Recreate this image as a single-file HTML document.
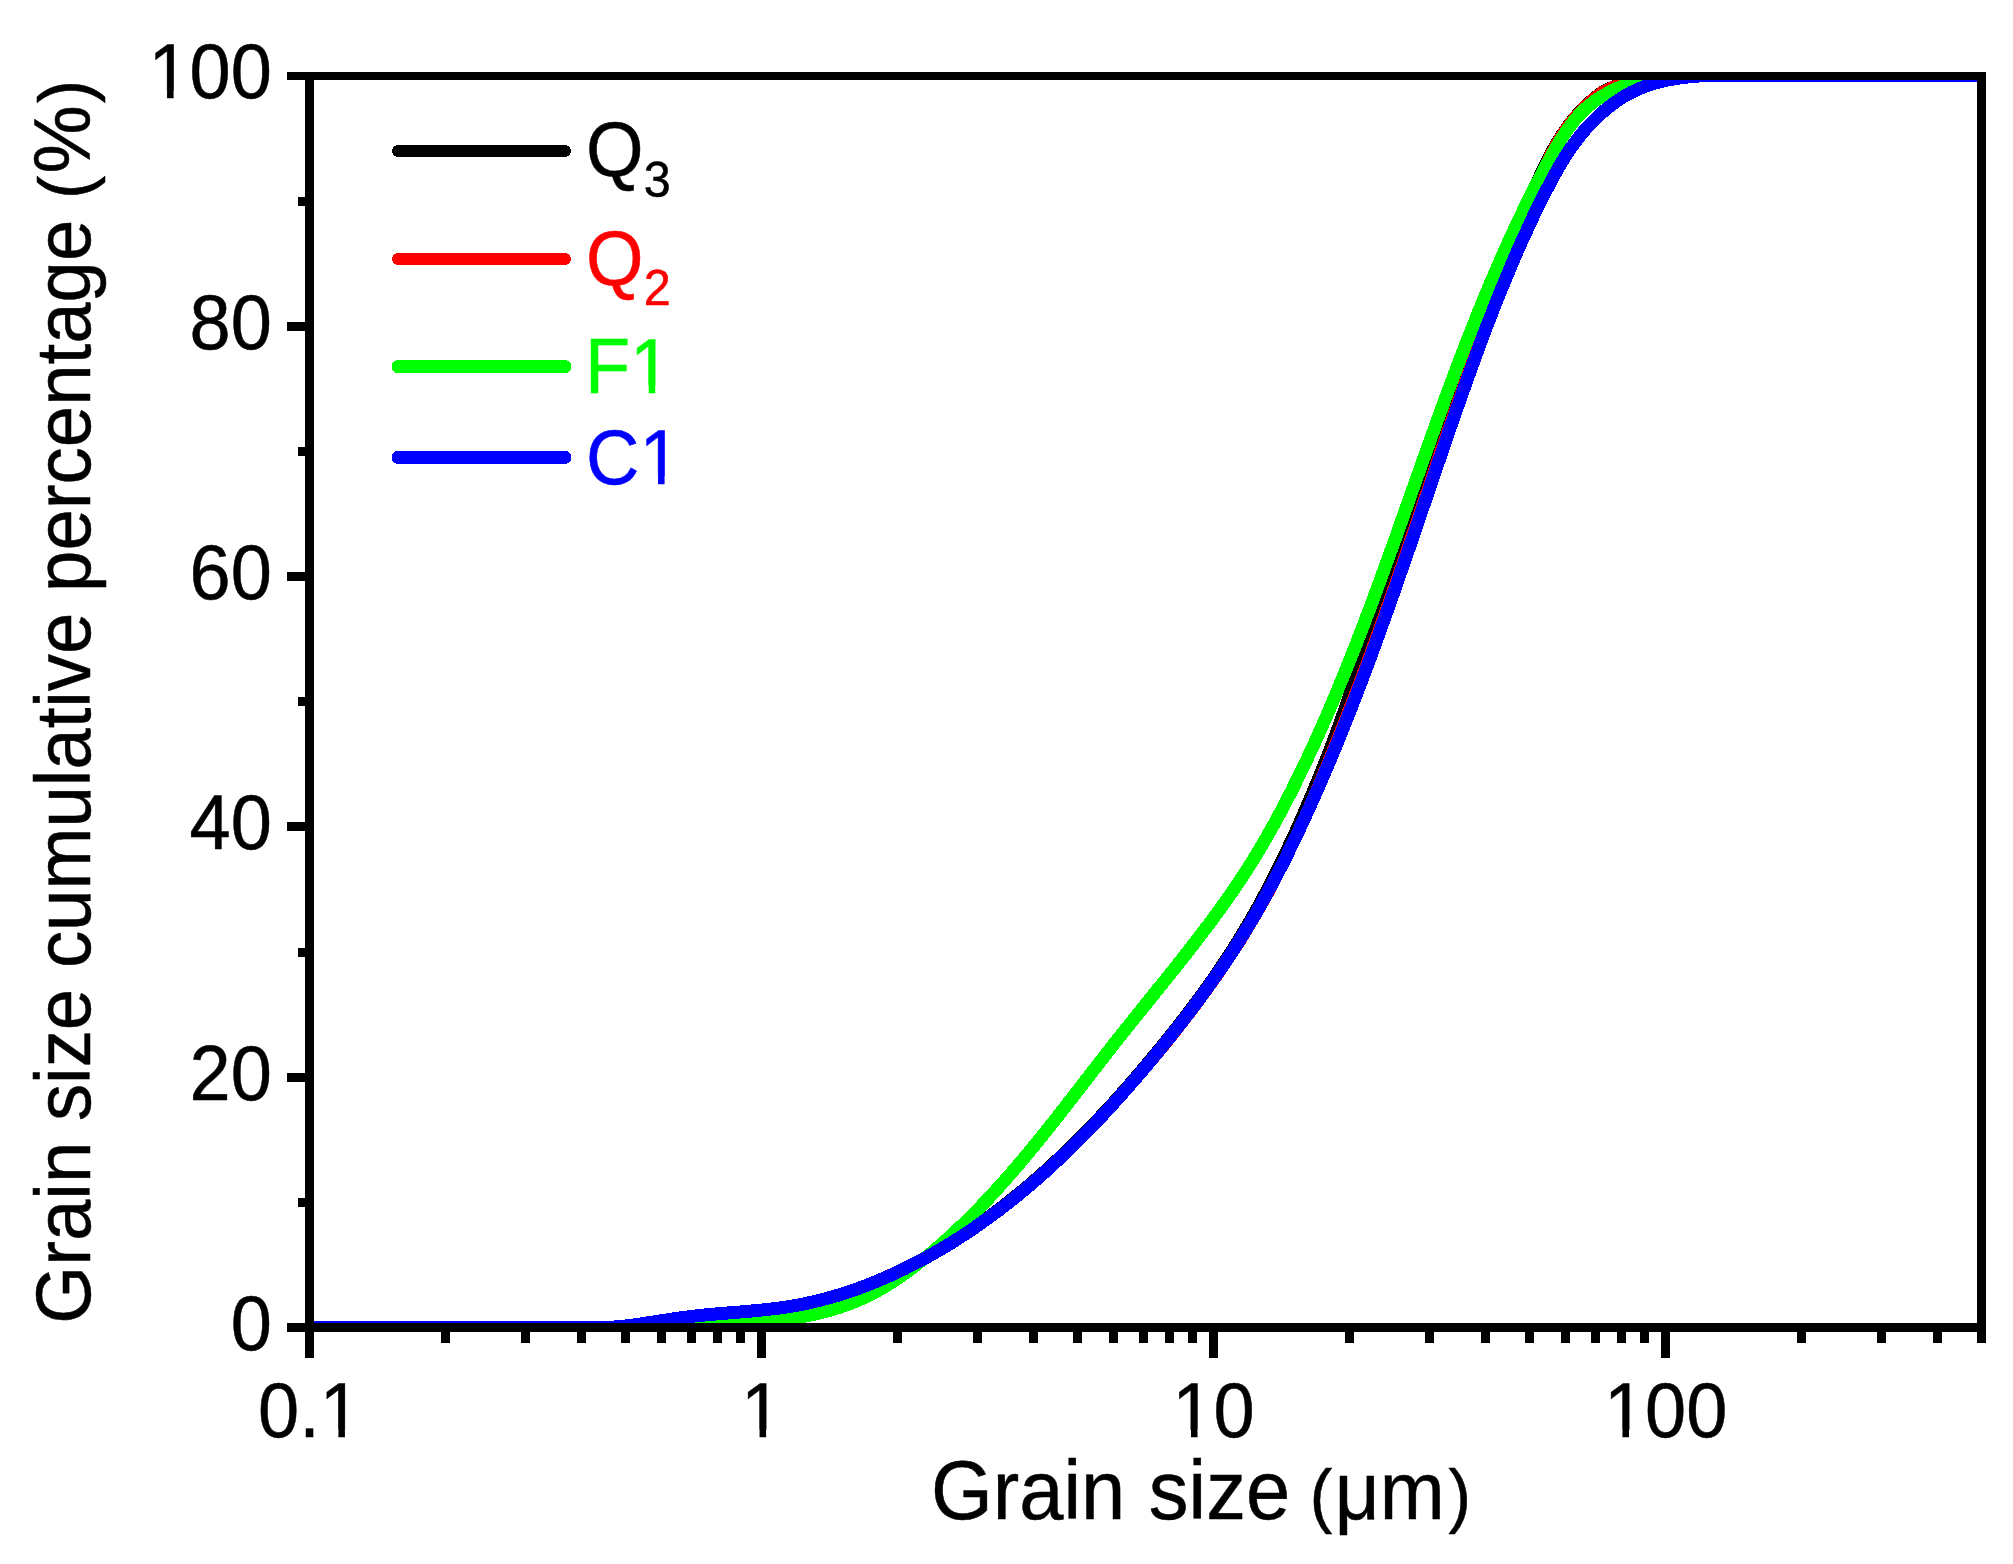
<!DOCTYPE html>
<html><head><meta charset="utf-8"><title>Grain size cumulative percentage</title>
<style>html,body{margin:0;padding:0;background:#fff}svg{display:block}</style></head>
<body>
<svg width="2013" height="1564" viewBox="0 0 2013 1564" font-family="'Liberation Sans', sans-serif">
<rect width="2013" height="1564" fill="#fff"/>
<defs><clipPath id="pc"><rect x="309.5" y="76.0" width="1672.0" height="1251.5"/></clipPath></defs>
<g clip-path="url(#pc)" shape-rendering="crispEdges" fill="none" stroke-width="13" stroke-linejoin="round" stroke-linecap="butt">
<path d="M309.5 1327.6 L540.0 1327.6 L550.0 1327.6 L560.1 1327.6 L570.2 1327.6 L580.3 1327.6 L590.3 1327.6 L600.4 1327.6 L610.4 1327.4 L620.4 1326.5 L630.4 1325.4 L640.3 1324.0 L650.3 1322.5 L660.2 1320.9 L670.2 1319.4 L680.1 1317.9 L690.1 1316.6 L700.1 1315.4 L710.1 1314.5 L720.2 1313.6 L730.2 1312.8 L740.3 1312.0 L750.3 1311.1 L760.3 1310.2 L770.3 1309.1 L780.2 1307.9 L790.2 1306.4 L800.0 1304.7 L809.9 1302.6 L819.7 1300.3 L829.4 1297.7 L839.2 1295.3 L848.9 1292.3 L858.4 1288.9 L867.8 1285.3 L877.0 1281.3 L886.1 1277.0 L895.2 1272.5 L904.2 1268.1 L913.3 1263.6 L922.2 1258.9 L931.0 1254.0 L939.7 1248.9 L948.4 1243.7 L956.9 1238.3 L965.4 1232.8 L973.7 1227.2 L982.0 1221.4 L990.1 1215.4 L998.2 1209.4 L1006.2 1203.2 L1014.1 1196.9 L1021.9 1190.6 L1029.6 1184.1 L1037.2 1177.5 L1044.8 1170.8 L1052.2 1164.0 L1059.6 1157.1 L1066.9 1150.1 L1074.1 1143.1 L1081.3 1136.0 L1088.3 1128.8 L1095.3 1121.5 L1102.2 1114.2 L1109.1 1106.8 L1115.9 1099.3 L1122.6 1091.8 L1129.3 1084.2 L1135.9 1076.6 L1142.4 1068.9 L1148.9 1061.2 L1155.4 1053.4 L1161.8 1045.6 L1168.1 1037.8 L1174.4 1029.9 L1180.6 1022.0 L1186.8 1014.0 L1192.9 1006.0 L1198.9 997.9 L1204.8 989.7 L1210.7 981.5 L1216.4 973.2 L1222.1 964.8 L1227.6 956.4 L1233.1 948.0 L1238.5 939.4 L1243.7 930.8 L1248.9 922.1 L1253.9 913.4 L1258.8 904.6 L1263.6 895.7 L1268.3 886.8 L1273.0 877.8 L1277.5 868.8 L1281.9 859.8 L1286.3 850.7 L1290.6 841.5 L1294.8 832.4 L1298.9 823.2 L1303.0 814.0 L1307.0 804.7 L1311.0 795.4 L1314.9 786.1 L1318.7 776.8 L1322.5 767.4 L1326.2 758.1 L1329.9 748.7 L1333.4 739.2 L1337.0 729.8 L1340.4 720.3 L1343.8 710.8 L1347.1 701.3 L1350.4 691.7 L1353.6 682.2 L1356.9 672.6 L1360.1 663.1 L1363.2 653.5 L1366.3 643.9 L1369.5 634.3 L1372.5 624.7 L1375.6 615.1 L1378.6 605.5 L1381.6 595.8 L1384.6 586.2 L1387.7 576.6 L1390.7 567.0 L1393.8 557.4 L1396.8 547.8 L1399.9 538.1 L1402.9 528.5 L1406.0 518.9 L1409.0 509.3 L1412.0 499.7 L1415.1 490.1 L1418.3 480.5 L1421.5 470.9 L1424.7 461.4 L1427.9 451.8 L1431.1 442.2 L1434.4 432.7 L1437.8 423.2 L1441.2 413.7 L1444.6 404.2 L1448.1 394.7 L1451.5 385.3 L1455.1 375.8 L1458.6 366.4 L1462.2 356.9 L1465.8 347.5 L1469.4 338.1 L1473.0 328.7 L1476.7 319.3 L1480.4 309.9 L1484.2 300.6 L1487.9 291.2 L1491.8 281.9 L1495.7 272.6 L1499.6 263.3 L1503.7 254.1 L1507.8 244.9 L1512.0 235.7 L1516.2 226.5 L1520.4 217.4 L1524.6 208.2 L1528.9 199.0 L1533.1 189.9 L1537.3 180.7 L1541.5 171.5 L1545.9 162.5 L1550.5 153.5 L1555.4 144.6 L1560.7 136.0 L1566.3 127.7 L1572.5 119.6 L1579.0 112.0 L1586.1 104.8 L1593.7 98.1 L1601.7 92.0 L1610.7 87.5 L1620.2 84.1 L1629.6 80.5 L1639.4 78.2 L1649.4 76.8 L1659.5 75.9 L1669.6 75.5 L1679.7 75.3 L1689.7 75.2 L1699.8 75.2 L1709.9 75.2 L1720.0 75.2 L1981.5 75.2" stroke="#000" stroke-width="12"/>
<path d="M309.5 1327.6 L540.0 1327.6 L550.0 1327.6 L560.1 1327.6 L570.2 1327.6 L580.3 1327.6 L590.3 1327.6 L600.4 1327.6 L610.4 1327.4 L620.4 1326.5 L630.4 1325.4 L640.3 1324.0 L650.3 1322.5 L660.2 1320.9 L670.2 1319.4 L680.1 1317.9 L690.1 1316.6 L700.1 1315.4 L710.1 1314.5 L720.2 1313.6 L730.2 1312.8 L740.3 1312.0 L750.3 1311.1 L760.3 1310.2 L770.3 1309.1 L780.2 1307.9 L790.2 1306.4 L800.0 1304.7 L809.9 1302.6 L819.7 1300.3 L829.4 1297.7 L839.2 1295.3 L848.7 1291.8 L858.1 1288.2 L867.5 1284.5 L876.8 1280.7 L886.1 1276.7 L895.3 1272.6 L904.4 1268.3 L913.4 1263.7 L922.3 1259.0 L931.2 1254.2 L939.9 1249.1 L948.6 1243.9 L957.1 1238.6 L965.6 1233.1 L974.0 1227.5 L982.2 1221.7 L990.4 1215.8 L998.5 1209.8 L1006.5 1203.7 L1014.4 1197.4 L1022.3 1191.0 L1030.0 1184.5 L1037.6 1178.0 L1045.2 1171.3 L1052.7 1164.5 L1060.0 1157.6 L1067.4 1150.7 L1074.6 1143.7 L1081.8 1136.6 L1088.9 1129.5 L1096.0 1122.2 L1103.0 1114.9 L1109.9 1107.6 L1116.7 1100.2 L1123.5 1092.7 L1130.2 1085.2 L1136.9 1077.6 L1143.5 1070.0 L1150.0 1062.3 L1156.5 1054.6 L1163.0 1046.8 L1169.3 1039.0 L1175.6 1031.1 L1181.8 1023.2 L1188.0 1015.2 L1194.1 1007.2 L1200.1 999.1 L1206.1 990.9 L1212.0 982.7 L1217.8 974.5 L1223.5 966.2 L1229.1 957.8 L1234.6 949.4 L1240.1 940.9 L1245.4 932.3 L1250.6 923.7 L1255.7 915.0 L1260.8 906.2 L1265.7 897.4 L1270.5 888.6 L1275.2 879.6 L1279.7 870.6 L1284.2 861.6 L1288.5 852.5 L1292.8 843.3 L1297.0 834.2 L1301.2 825.0 L1305.3 815.8 L1309.3 806.5 L1313.3 797.3 L1317.3 788.0 L1321.2 778.7 L1325.0 769.4 L1328.9 760.0 L1332.6 750.7 L1336.4 741.3 L1340.1 731.9 L1343.8 722.5 L1347.5 713.2 L1351.2 703.8 L1354.8 694.4 L1358.4 684.9 L1362.0 675.5 L1365.6 666.1 L1369.1 656.6 L1372.5 647.1 L1376.0 637.7 L1379.4 628.2 L1382.8 618.7 L1386.2 609.2 L1389.6 599.7 L1392.9 590.1 L1396.3 580.6 L1399.6 571.1 L1402.9 561.6 L1406.2 552.0 L1409.4 542.5 L1412.7 532.9 L1416.0 523.4 L1419.2 513.9 L1422.5 504.3 L1425.7 494.8 L1429.0 485.2 L1432.2 475.7 L1435.5 466.1 L1438.8 456.6 L1442.0 447.0 L1445.3 437.5 L1448.7 428.0 L1452.0 418.5 L1455.4 409.0 L1458.8 399.5 L1462.2 390.0 L1465.6 380.5 L1469.0 371.0 L1472.4 361.5 L1475.8 352.0 L1479.1 342.5 L1482.4 332.9 L1485.7 323.4 L1489.0 313.8 L1492.2 304.3 L1495.6 294.7 L1499.0 285.3 L1502.4 275.8 L1506.0 266.4 L1509.8 257.0 L1513.8 247.8 L1517.9 238.5 L1522.0 229.3 L1526.1 220.1 L1530.2 210.8 L1534.0 201.5 L1537.6 192.1 L1540.7 182.5 L1543.6 172.8 L1546.7 163.2 L1550.8 154.1 L1555.6 145.1 L1560.9 136.5 L1566.5 128.1 L1572.6 120.0 L1579.2 112.4 L1586.2 105.2 L1593.8 98.4 L1601.8 92.3 L1610.7 87.7 L1620.2 84.3 L1629.7 80.7 L1639.4 78.3 L1649.4 76.8 L1659.5 75.9 L1669.6 75.5 L1679.6 75.3 L1689.7 75.2 L1699.8 75.2 L1709.9 75.2 L1720.0 75.2 L1981.5 75.2" stroke="#f00" stroke-width="12"/>
<path d="M309.5 1327.6 L630.0 1327.6 L640.1 1327.6 L650.2 1327.6 L660.2 1327.6 L670.3 1327.6 L680.4 1327.6 L690.4 1327.5 L700.5 1327.2 L710.6 1326.7 L720.6 1326.2 L730.7 1325.6 L740.7 1324.8 L750.8 1323.9 L760.8 1322.8 L770.9 1321.6 L780.9 1320.3 L790.9 1318.7 L800.8 1317.0 L810.7 1315.0 L820.6 1312.7 L830.3 1310.1 L839.9 1307.2 L849.3 1303.9 L858.6 1300.1 L867.8 1296.0 L876.7 1291.3 L885.4 1286.3 L893.9 1280.9 L902.3 1275.2 L910.5 1269.3 L918.6 1263.1 L926.5 1256.8 L934.3 1250.4 L941.9 1243.8 L949.4 1237.1 L956.8 1230.2 L964.0 1223.3 L971.2 1216.3 L978.2 1209.1 L985.2 1201.9 L992.1 1194.5 L998.8 1187.1 L1005.5 1179.6 L1012.1 1172.1 L1018.7 1164.4 L1025.2 1156.7 L1031.6 1149.0 L1038.0 1141.1 L1044.3 1133.3 L1050.6 1125.4 L1056.9 1117.5 L1063.1 1109.5 L1069.3 1101.5 L1075.5 1093.6 L1081.7 1085.6 L1087.9 1077.6 L1094.1 1069.5 L1100.3 1061.6 L1106.5 1053.6 L1112.7 1045.6 L1119.0 1037.7 L1125.3 1029.8 L1131.6 1021.9 L1137.9 1014.0 L1144.3 1006.1 L1150.6 998.3 L1156.9 990.4 L1163.3 982.6 L1169.6 974.7 L1175.9 966.9 L1182.1 959.0 L1188.3 951.1 L1194.5 943.1 L1200.6 935.2 L1206.7 927.1 L1212.7 919.1 L1218.6 911.0 L1224.5 902.8 L1230.3 894.6 L1235.9 886.3 L1241.5 878.0 L1247.0 869.6 L1252.4 861.1 L1257.6 852.5 L1262.8 843.8 L1267.8 835.1 L1272.8 826.3 L1277.6 817.5 L1282.4 808.6 L1287.1 799.7 L1291.7 790.7 L1296.2 781.6 L1300.6 772.5 L1305.0 763.4 L1309.3 754.3 L1313.6 745.1 L1317.7 735.9 L1321.9 726.7 L1325.9 717.5 L1329.9 708.2 L1333.9 698.9 L1337.8 689.6 L1341.6 680.3 L1345.4 671.0 L1349.2 661.6 L1352.9 652.2 L1356.6 642.8 L1360.3 633.4 L1363.9 624.0 L1367.4 614.6 L1371.0 605.2 L1374.5 595.7 L1378.0 586.3 L1381.5 576.8 L1384.9 567.3 L1388.4 557.8 L1391.8 548.4 L1395.2 538.9 L1398.6 529.4 L1401.9 519.9 L1405.3 510.4 L1408.7 500.9 L1412.0 491.4 L1415.4 481.9 L1418.8 472.4 L1422.1 462.9 L1425.5 453.4 L1428.9 443.9 L1432.3 434.5 L1435.7 425.0 L1439.1 415.5 L1442.6 406.1 L1446.0 396.6 L1449.5 387.2 L1453.0 377.8 L1456.5 368.4 L1460.1 359.0 L1463.7 349.6 L1467.3 340.2 L1471.0 330.9 L1474.7 321.6 L1478.4 312.2 L1482.2 302.9 L1486.0 293.6 L1489.9 284.4 L1493.9 275.1 L1497.9 265.9 L1501.9 256.7 L1506.0 247.4 L1510.2 238.3 L1514.4 229.1 L1518.8 219.9 L1523.1 210.8 L1527.6 201.6 L1532.2 192.5 L1536.8 183.4 L1541.5 174.3 L1546.3 165.3 L1551.2 156.2 L1556.2 147.2 L1561.5 138.5 L1567.1 130.0 L1573.0 122.0 L1579.5 114.5 L1586.5 107.7 L1594.1 101.6 L1602.2 96.1 L1610.8 91.4 L1619.8 87.2 L1629.2 83.7 L1638.8 80.8 L1648.7 78.5 L1658.7 76.8 L1668.8 75.6 L1679.0 75.2 L1689.3 75.2 L1699.5 75.2 L1709.7 75.2 L1719.9 75.2 L1730.0 75.2 L1740.1 75.2 L1750.1 75.2 L1760.0 75.2 L1769.7 75.2 L1981.5 75.2" stroke="#0f0" stroke-width="13"/>
<path d="M309.5 1327.6 L540.0 1327.6 L550.0 1327.6 L560.1 1327.6 L570.2 1327.6 L580.3 1327.6 L590.3 1327.6 L600.4 1327.6 L610.4 1327.4 L620.4 1326.5 L630.4 1325.4 L640.3 1324.0 L650.3 1322.5 L660.2 1320.9 L670.2 1319.4 L680.1 1317.9 L690.1 1316.6 L700.1 1315.4 L710.1 1314.5 L720.2 1313.6 L730.2 1312.8 L740.3 1312.0 L750.3 1311.1 L760.3 1310.2 L770.3 1309.1 L780.2 1307.9 L790.2 1306.4 L800.0 1304.7 L809.9 1302.6 L819.7 1300.3 L829.4 1297.7 L839.1 1294.9 L848.7 1291.8 L858.2 1288.5 L867.7 1284.9 L877.0 1281.2 L886.3 1277.2 L895.5 1273.1 L904.6 1268.7 L913.5 1264.2 L922.4 1259.6 L931.2 1254.7 L939.9 1249.7 L948.5 1244.6 L957.0 1239.3 L965.4 1233.8 L973.7 1228.3 L981.9 1222.5 L990.0 1216.7 L998.1 1210.7 L1006.0 1204.6 L1013.9 1198.4 L1021.7 1192.0 L1029.4 1185.6 L1037.0 1179.0 L1044.5 1172.4 L1052.0 1165.6 L1059.3 1158.7 L1066.6 1151.8 L1073.9 1144.7 L1081.0 1137.6 L1088.1 1130.4 L1095.1 1123.2 L1102.1 1115.8 L1109.0 1108.4 L1115.8 1100.9 L1122.5 1093.4 L1129.2 1085.8 L1135.8 1078.2 L1142.4 1070.5 L1148.9 1062.8 L1155.4 1055.0 L1161.7 1047.2 L1168.1 1039.4 L1174.3 1031.6 L1180.6 1023.7 L1186.7 1015.8 L1192.8 1007.8 L1198.8 999.7 L1204.7 991.7 L1210.5 983.5 L1216.3 975.4 L1222.0 967.1 L1227.6 958.8 L1233.1 950.5 L1238.5 942.0 L1243.8 933.5 L1249.0 925.0 L1254.2 916.3 L1259.2 907.6 L1264.1 898.8 L1268.9 890.0 L1273.7 881.1 L1278.4 872.1 L1283.0 863.1 L1287.5 854.1 L1291.9 845.0 L1296.3 835.9 L1300.6 826.8 L1304.8 817.6 L1309.0 808.5 L1313.2 799.3 L1317.2 790.0 L1321.3 780.8 L1325.2 771.6 L1329.2 762.3 L1333.0 753.0 L1336.9 743.7 L1340.7 734.4 L1344.4 725.1 L1348.1 715.7 L1351.8 706.4 L1355.4 697.0 L1359.0 687.7 L1362.6 678.3 L1366.1 668.9 L1369.6 659.5 L1373.1 650.0 L1376.5 640.6 L1379.9 631.2 L1383.3 621.7 L1386.7 612.3 L1390.1 602.8 L1393.4 593.3 L1396.7 583.8 L1400.0 574.4 L1403.3 564.9 L1406.6 555.4 L1409.9 545.9 L1413.1 536.4 L1416.4 526.9 L1419.6 517.3 L1422.9 507.8 L1426.1 498.3 L1429.4 488.8 L1432.6 479.2 L1435.9 469.7 L1439.1 460.2 L1442.4 450.7 L1445.7 441.1 L1448.9 431.6 L1452.2 422.1 L1455.5 412.5 L1458.9 403.0 L1462.2 393.5 L1465.6 384.0 L1469.0 374.5 L1472.4 365.0 L1475.9 355.5 L1479.4 346.0 L1482.9 336.6 L1486.4 327.1 L1490.1 317.7 L1493.7 308.4 L1497.4 299.0 L1501.2 289.7 L1505.0 280.4 L1508.9 271.1 L1512.8 261.8 L1516.8 252.6 L1520.8 243.5 L1525.0 234.3 L1529.2 225.3 L1533.4 216.2 L1537.8 207.2 L1542.2 198.3 L1546.8 189.4 L1551.4 180.5 L1556.2 171.8 L1561.2 163.1 L1566.4 154.6 L1572.1 146.3 L1578.2 138.1 L1584.7 130.2 L1591.6 122.7 L1598.9 115.5 L1606.6 108.8 L1614.6 102.6 L1623.0 97.0 L1631.8 92.1 L1640.8 88.0 L1650.1 84.5 L1659.7 81.8 L1669.4 79.6 L1679.3 78.0 L1689.3 76.8 L1699.3 76.0 L1709.4 75.5 L1719.5 75.2 L1729.6 75.2 L1739.6 75.2 L1749.7 75.2 L1759.8 75.2 L1769.9 75.2 L1779.9 75.2 L1790.0 75.2 L1800.0 75.2 L1981.5 75.2" stroke="#00f" stroke-width="13"/>
</g>
<g fill="#000" shape-rendering="crispEdges">
<rect x="305" y="72" width="9" height="1286"/>
<rect x="1977" y="72" width="9" height="1271"/>
<rect x="287" y="72" width="1699" height="8"/>
<rect x="287" y="1323" width="1699" height="9"/>
<rect x="298" y="1198" width="9" height="9"/>
<rect x="287" y="1073" width="20" height="9"/>
<rect x="298" y="948" width="9" height="9"/>
<rect x="287" y="822" width="20" height="9"/>
<rect x="298" y="697" width="9" height="9"/>
<rect x="287" y="572" width="20" height="9"/>
<rect x="298" y="447" width="9" height="9"/>
<rect x="287" y="322" width="20" height="9"/>
<rect x="298" y="197" width="9" height="9"/>
<rect x="441" y="1330" width="9" height="13"/>
<rect x="521" y="1330" width="9" height="13"/>
<rect x="577" y="1330" width="9" height="13"/>
<rect x="621" y="1330" width="9" height="13"/>
<rect x="657" y="1330" width="9" height="13"/>
<rect x="687" y="1330" width="9" height="13"/>
<rect x="713" y="1330" width="9" height="13"/>
<rect x="736" y="1330" width="9" height="13"/>
<rect x="757" y="1330" width="9" height="28"/>
<rect x="893" y="1330" width="9" height="13"/>
<rect x="973" y="1330" width="9" height="13"/>
<rect x="1029" y="1330" width="9" height="13"/>
<rect x="1073" y="1330" width="9" height="13"/>
<rect x="1109" y="1330" width="9" height="13"/>
<rect x="1139" y="1330" width="9" height="13"/>
<rect x="1165" y="1330" width="9" height="13"/>
<rect x="1188" y="1330" width="9" height="13"/>
<rect x="1209" y="1330" width="9" height="28"/>
<rect x="1345" y="1330" width="9" height="13"/>
<rect x="1425" y="1330" width="9" height="13"/>
<rect x="1481" y="1330" width="9" height="13"/>
<rect x="1525" y="1330" width="9" height="13"/>
<rect x="1561" y="1330" width="9" height="13"/>
<rect x="1591" y="1330" width="9" height="13"/>
<rect x="1617" y="1330" width="9" height="13"/>
<rect x="1640" y="1330" width="9" height="13"/>
<rect x="1661" y="1330" width="9" height="28"/>
<rect x="1797" y="1330" width="9" height="13"/>
<rect x="1877" y="1330" width="9" height="13"/>
<rect x="1933" y="1330" width="9" height="13"/>
</g>
<text transform="translate(271.9,1349.9) scale(0.9610,1)" font-size="77" text-anchor="end" fill="#000" stroke="#000" stroke-width="0.5">0</text>
<text transform="translate(271.9,1099.6) scale(0.9610,1)" font-size="77" text-anchor="end" fill="#000" stroke="#000" stroke-width="0.5">20</text>
<text transform="translate(271.9,849.3) scale(0.9610,1)" font-size="77" text-anchor="end" fill="#000" stroke="#000" stroke-width="0.5">40</text>
<text transform="translate(271.9,599.0) scale(0.9610,1)" font-size="77" text-anchor="end" fill="#000" stroke="#000" stroke-width="0.5">60</text>
<text transform="translate(271.9,348.7) scale(0.9610,1)" font-size="77" text-anchor="end" fill="#000" stroke="#000" stroke-width="0.5">80</text>
<text transform="translate(271.9,98.4) scale(0.9610,1)" font-size="77" text-anchor="end" fill="#000" stroke="#000" stroke-width="0.5">100</text>
<text transform="translate(309.5,1437.0) scale(0.9610,1)" font-size="77" text-anchor="middle" fill="#000" stroke="#000" stroke-width="0.5">0.1</text>
<text transform="translate(761.5,1437.0) scale(0.9610,1)" font-size="77" text-anchor="middle" fill="#000" stroke="#000" stroke-width="0.5">1</text>
<text transform="translate(1213.5,1437.0) scale(0.9610,1)" font-size="77" text-anchor="middle" fill="#000" stroke="#000" stroke-width="0.5">10</text>
<text transform="translate(1665.6,1437.0) scale(0.9610,1)" font-size="77" text-anchor="middle" fill="#000" stroke="#000" stroke-width="0.5">100</text>
<text transform="translate(0,1519) scale(0.9636,1)" font-size="82.5" fill="#000" stroke="#000" stroke-width="0.5"><tspan x="966.1">Grain </tspan><tspan x="1192.2">size </tspan><tspan x="1359.2" font-size="69.9">(</tspan><tspan x="1385.2" font-size="81">μm</tspan><tspan x="1503.2" font-size="69.9">)</tspan></text>
<text transform="translate(90,0) rotate(-90) scale(0.9600,1)" font-size="77.5" fill="#000" stroke="#000" stroke-width="0.5"><tspan x="-1378.8">Grain size cumulative percentage </tspan><tspan x="-207.3" font-size="73">(</tspan><tspan x="-180.7" font-size="80">%</tspan><tspan x="-107.6" font-size="73">)</tspan></text>
<g stroke-width="12" stroke-linecap="round" shape-rendering="crispEdges">
<line x1="398" y1="151.0" x2="565" y2="151.0" stroke="#000" stroke-width="12"/>
<line x1="398" y1="259.0" x2="565" y2="259.0" stroke="#f00" stroke-width="12"/>
<line x1="398" y1="366.6" x2="565" y2="366.6" stroke="#0f0" stroke-width="13"/>
<line x1="398" y1="457.4" x2="565" y2="457.4" stroke="#00f" stroke-width="13"/>
</g>
<text transform="translate(586.1,176.4) scale(0.9610,1)" font-size="77" fill="#000" stroke="#000" stroke-width="0.5">Q<tspan font-size="50.5" dy="20.8">3</tspan></text>
<text transform="translate(586.1,284.7) scale(0.9610,1)" font-size="77" fill="#f00" stroke="#f00" stroke-width="0.5">Q<tspan font-size="50.5" dy="20">2</tspan></text>
<text transform="translate(584.9,393.0) scale(0.9610,1)" font-size="77" fill="#0f0" stroke="#0f0" stroke-width="0.5">F1</text>
<text transform="translate(586.0,484.0) scale(0.9610,1)" font-size="77" fill="#00f" stroke="#00f" stroke-width="0.5">C1</text>
<g fill="#fff"><rect x="152.58" y="91.15" width="14.47" height="8.75"/><rect x="173.59" y="91.15" width="13.89" height="8.75"/><rect x="323.92" y="1429.75" width="14.47" height="8.75"/><rect x="344.93" y="1429.75" width="13.89" height="8.75"/><rect x="745.08" y="1429.75" width="14.47" height="8.75"/><rect x="766.09" y="1429.75" width="13.89" height="8.75"/><rect x="1176.52" y="1429.75" width="14.47" height="8.75"/><rect x="1197.53" y="1429.75" width="13.89" height="8.75"/><rect x="1607.96" y="1429.75" width="14.47" height="8.75"/><rect x="1628.97" y="1429.75" width="13.89" height="8.75"/><rect x="634.24" y="385.75" width="14.47" height="8.75"/><rect x="655.25" y="385.75" width="13.89" height="8.75"/><rect x="643.57" y="476.75" width="14.47" height="8.75"/><rect x="664.59" y="476.75" width="13.89" height="8.75"/></g>
</svg>
</body></html>
